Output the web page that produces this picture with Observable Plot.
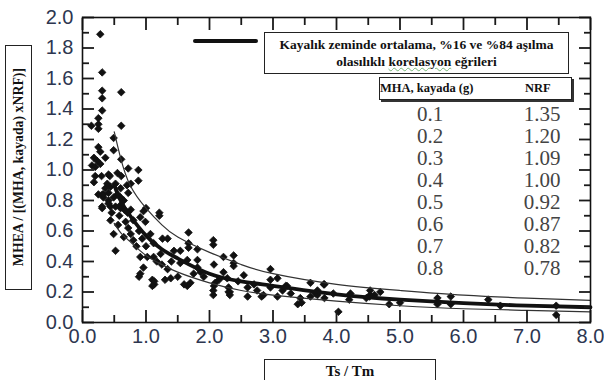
<!DOCTYPE html>
<html><head><meta charset="utf-8">
<script src="https://cdn.jsdelivr.net/npm/d3@7"></script>
<script src="https://cdn.jsdelivr.net/npm/@observablehq/plot@0.6"></script>
<style>
body{margin:0;background:#fff;}
#wrap{position:relative;width:604px;height:380px;overflow:hidden;background:#fff;}
#wrap svg{position:absolute;left:0;top:0;}
.box{position:absolute;border:1px solid #222;background:#fff;font-family:"Liberation Serif","Times New Roman",serif;font-weight:bold;color:#111;box-sizing:border-box;}
.ov{position:absolute;font-family:"Liberation Serif","Times New Roman",serif;}
</style></head>
<body><div id="wrap"></div>
<script>
const scatterPoints = [[0.28,1.89],[0.31,1.64],[0.31,1.52],[0.31,1.47],[0.31,1.39],[0.61,1.51],[0.61,1.29],[0.14,1.29],[0.25,1.34],[0.25,1.30],[0.25,1.27],[0.49,1.21],[0.49,1.13],[0.25,1.15],[0.28,1.12],[0.18,1.08],[0.23,1.06],[0.15,1.03],[0.28,1.04],[0.20,1.02],[0.30,0.96],[0.20,0.96],[0.41,0.97],[0.61,1.07],[0.72,1.01],[0.88,1.00],[0.88,0.93],[0.72,0.85],[0.61,0.96],[0.76,0.91],[0.43,0.96],[0.52,0.91],[0.44,0.89],[0.60,0.88],[0.41,0.85],[0.31,0.84],[0.25,0.84],[0.33,0.82],[0.41,0.80],[0.49,0.82],[0.55,0.84],[0.60,0.82],[0.65,0.80],[0.31,0.76],[0.44,0.76],[0.52,0.76],[0.60,0.75],[0.76,0.74],[1.00,0.75],[1.21,0.72],[1.21,0.70],[0.91,0.69],[0.39,0.91],[0.33,0.84],[0.41,0.78],[0.60,0.77],[0.31,0.75],[0.44,0.67],[0.49,0.58],[0.52,0.47],[0.71,0.72],[0.80,0.67],[0.96,0.73],[0.99,0.66],[0.89,0.60],[0.76,0.58],[0.65,0.56],[0.80,0.54],[0.94,0.55],[1.07,0.58],[1.12,0.52],[1.26,0.55],[1.34,0.55],[1.67,0.59],[1.67,0.52],[1.67,0.49],[1.81,0.48],[2.06,0.54],[2.06,0.51],[1.54,0.47],[1.44,0.47],[1.23,0.45],[1.12,0.43],[1.02,0.43],[0.91,0.43],[0.96,0.36],[0.91,0.32],[0.89,0.30],[1.10,0.28],[1.10,0.24],[1.34,0.35],[1.39,0.29],[1.54,0.39],[1.65,0.41],[1.70,0.26],[1.65,0.24],[1.81,0.41],[1.81,0.36],[1.86,0.33],[1.91,0.30],[2.07,0.38],[2.09,0.26],[2.07,0.24],[2.22,0.43],[2.22,0.33],[2.28,0.29],[2.38,0.44],[2.38,0.39],[2.38,0.37],[2.30,0.23],[2.30,0.20],[2.54,0.31],[2.60,0.23],[2.75,0.21],[2.85,0.18],[2.96,0.35],[2.96,0.28],[2.96,0.23],[3.07,0.29],[3.22,0.24],[3.28,0.19],[3.43,0.16],[3.59,0.26],[3.70,0.21],[3.70,0.18],[3.80,0.25],[3.95,0.19],[4.22,0.19],[4.53,0.21],[4.53,0.18],[4.69,0.20],[1.13,0.25],[1.13,0.27],[1.60,0.25],[2.06,0.18],[2.06,0.21],[2.32,0.20],[2.32,0.18],[2.60,0.17],[2.82,0.17],[3.07,0.17],[3.39,0.12],[3.45,0.13],[3.59,0.17],[3.67,0.19],[3.81,0.16],[4.03,0.07],[4.20,0.15],[4.47,0.16],[4.52,0.17],[4.60,0.18],[4.83,0.12],[5.00,0.13],[5.59,0.16],[5.59,0.12],[5.80,0.17],[5.80,0.12],[6.39,0.15],[6.58,0.11],[7.46,0.11],[7.46,0.05],[3.20,0.24],[3.81,0.25],[1.30,0.28],[1.50,0.30],[0.72,0.62],[0.68,0.66],[0.58,0.70],[0.85,0.50],[1.00,0.50],[1.17,0.40],[1.40,0.40],[1.25,0.38],[1.75,0.32],[2.15,0.28],[2.45,0.27],[2.70,0.25],[3.15,0.21],[0.36,0.88],[0.46,0.72],[0.56,0.64],[0.66,0.74],[0.70,0.90],[0.55,0.98],[0.36,1.08],[0.18,0.92]];

const curveX    = [0.5, 0.6, 0.75, 1.0, 1.25, 1.5, 2.0, 2.5, 3.0, 4.0, 5.0, 6.0, 7.0, 8.0];
const meanY     = [0.90,0.80,0.70,0.57,0.48,0.42,0.32,0.27,0.24,0.185,0.15,0.127,0.11,0.10];
const upperY    = [1.25,1.08,0.90,0.75,0.64,0.56,0.46,0.38,0.32,0.25,0.21,0.18,0.16,0.145];
const lowerY    = [0.65,0.59,0.53,0.44,0.38,0.33,0.26,0.21,0.18,0.14,0.11,0.09,0.08,0.07];

const xMajorTicks = [0,1,2,3,4,5,6,7,8];
const xMinorTicks = [0.5,1.5,2.5,3.5,4.5,5.5,6.5,7.5];
const yMajorTicks = [0,0.2,0.4,0.6,0.8,1.0,1.2,1.4,1.6,1.8,2.0];
const yMinorTicks = [0.1,0.3,0.5,0.7,0.9,1.1,1.3,1.5,1.7,1.9];

const mhaValues = ["0.1","0.2","0.3","0.4","0.5","0.6","0.7","0.8"];
const nrfValues = ["1.35","1.20","1.09","1.00","0.92","0.87","0.82","0.78"];

const legendText1 = "Kayalık zeminde ortalama, %16 ve %84 aşılma";
const legendText2a = "olasılıklı ";
const legendText2b = "korelasyon";
const legendText2c = " eğrileri";
const yTitle = "MHEA / [(MHA, kayada) xNRF)]";
const xTitle = "Ts / Tm";

const mk = ys => curveX.map((x,i)=>({x, y: ys[i]}));
const pts = scatterPoints.map(([x,y])=>({x,y}));
const tickCol = "#1a1a1a";
const labCol = "#2d3650";

const chart = Plot.plot({
  width: 604, height: 380,
  marginLeft: 82, marginRight: 14, marginTop: 17, marginBottom: 58,
  x: {domain: [0, 8]},
  y: {domain: [0, 2]},
  style: {background: "transparent", fontFamily: "'Liberation Sans', Arial, sans-serif", overflow: "visible"},
  marks: [
    Plot.dot(pts, {x: "x", y: "y", symbol: "diamond2", r: 3.4, fill: "#111", stroke: "#111", strokeWidth: 0.8}),
    Plot.line(mk(upperY), {x: "x", y: "y", curve: "natural", stroke: "#333", strokeWidth: 1.2}),
    Plot.line(mk(lowerY), {x: "x", y: "y", curve: "natural", stroke: "#333", strokeWidth: 1.2}),
    Plot.line(mk(meanY), {x: "x", y: "y", curve: "natural", stroke: "#111", strokeWidth: 3.8}),
    Plot.axisX(xMajorTicks, {anchor: "bottom", tickSize: -12, strokeWidth: 1.8, stroke: tickCol, tickFormat: () => "", label: null}),
    Plot.axisX(xMinorTicks, {anchor: "bottom", tickSize: -7, strokeWidth: 1.8, stroke: tickCol, tickFormat: () => "", label: null}),
    Plot.axisX(xMajorTicks, {anchor: "top", tickSize: -12, strokeWidth: 1.8, stroke: tickCol, tickFormat: () => "", label: null}),
    Plot.axisX(xMinorTicks, {anchor: "top", tickSize: -7, strokeWidth: 1.8, stroke: tickCol, tickFormat: () => "", label: null}),
    Plot.axisY(yMajorTicks, {anchor: "left", tickSize: -12, strokeWidth: 1.8, stroke: tickCol, tickFormat: () => "", label: null}),
    Plot.axisY(yMinorTicks, {anchor: "left", tickSize: -7, strokeWidth: 1.8, stroke: tickCol, tickFormat: () => "", label: null}),
    Plot.axisY(yMajorTicks, {anchor: "right", tickSize: -12, strokeWidth: 1.8, stroke: tickCol, tickFormat: () => "", label: null}),
    Plot.axisY(yMinorTicks, {anchor: "right", tickSize: -7, strokeWidth: 1.8, stroke: tickCol, tickFormat: () => "", label: null}),
    Plot.axisX(xMajorTicks, {anchor: "bottom", tickSize: 0, tickPadding: 6, fontSize: 20, fill: labCol, tickFormat: d => d.toFixed(1), label: null}),
    Plot.axisY(yMajorTicks, {anchor: "left", tickSize: 0, tickPadding: 9, fontSize: 20, fill: labCol, tickFormat: d => d.toFixed(1), label: null}),
    Plot.frame({stroke: "#111", strokeWidth: 1.6})
  ]
});
const wrap = document.getElementById("wrap");
wrap.appendChild(chart);

function add(html){ wrap.insertAdjacentHTML("beforeend", html); }

// legend thick line sample
add(`<div style="position:absolute;left:193px;top:39px;width:65px;height:4px;background:#111;border-radius:2px"></div>`);
// legend box
add(`<div class="box" style="left:264px;top:32px;width:305px;height:42px;font-size:13.5px;line-height:17px;text-align:center;padding-top:3px">${legendText1}<br>${legendText2a}<span style="text-decoration:underline wavy #7ab77a;text-decoration-thickness:1px">${legendText2b}</span>${legendText2c}</div>`);
// table header
add(`<div class="box" style="left:379px;top:77px;width:193px;height:23px;font-size:12.5px;box-shadow:2px 2px 0 #333"><span style="position:absolute;left:0px;top:3px">MHA, kayada (g)</span><span style="position:absolute;left:145px;top:3px">NRF</span></div>`);
// table values
mhaValues.forEach((v,i)=>{
  add(`<div class="ov" style="left:400px;width:60px;top:${104+i*22}px;height:20px;line-height:20px;text-align:center;font-size:21px;color:#444">${v}</div>`);
  add(`<div class="ov" style="left:510px;width:64px;top:${104+i*22}px;height:20px;line-height:20px;text-align:center;font-size:21px;color:#444">${nrfValues[i]}</div>`);
});
// y title box
add(`<div class="box" style="left:5px;top:45px;width:27px;height:245px;display:flex;align-items:center;justify-content:center"><div style="writing-mode:vertical-rl;transform:rotate(180deg);font-size:13.8px;white-space:nowrap">${yTitle}</div></div>`);
// x title box
add(`<div class="box" style="left:264px;top:359px;width:172px;height:30px;font-size:15px;text-align:center;padding-top:3px">${xTitle}</div>`);
</script>
</body></html>
